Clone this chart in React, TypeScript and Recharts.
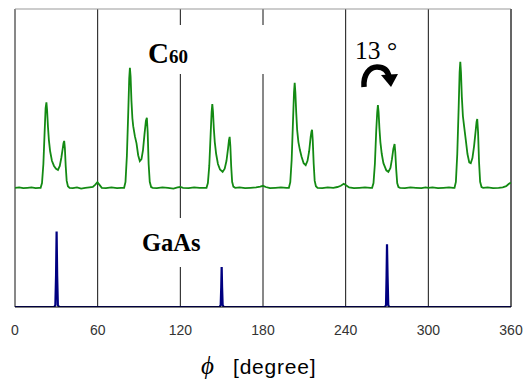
import * as React from 'react';
import { LineChart, Line, XAxis, YAxis, CartesianGrid, ReferenceLine } from 'recharts';

// phi [degree], intensity (C60 trace sits on an offset of 3)
const c60Trace: [number, number][] = [
  [0, 3.0], [3, 3.01], [6, 2.99], [9, 3.0], [12, 3.01], [15, 2.99], [17.5, 3.0],
  [18.6, 3.0], [19.6, 3.12], [20.6, 3.6], [21.5, 4.4], [22.2, 5.0], [22.8, 5.15], [23.3, 4.95],
  [23.9, 4.55], [24.6, 4.2], [25.5, 3.92], [26.8, 3.68], [28.3, 3.55], [29.8, 3.48], [31.2, 3.45],
  [32.5, 3.55], [33.6, 3.75], [34.6, 3.98], [35.2, 4.12], [35.7, 4.18], [36.2, 4.0], [36.8, 3.55],
  [37.5, 3.18], [38.4, 3.04], [39.6, 3.0],
  [42, 2.99], [45, 3.01], [48, 2.98], [51, 3.0], [54, 3.01], [56.5, 3.02], [58.3, 3.08],
  [59.8, 3.14], [61.2, 3.08], [63, 3.0], [66, 2.99], [70, 3.01], [74, 2.99], [77, 3.0],
  [79.2, 3.0], [80.2, 3.15], [81.2, 3.8], [82.2, 4.9], [82.9, 5.75], [83.4, 6.02], [83.9, 5.8],
  [84.5, 5.2], [85.2, 4.75], [85.8, 4.55], [87, 4.3], [88.2, 4.12], [89.4, 3.82], [90.6, 3.67],
  [91.8, 3.72], [92.9, 3.95], [94, 4.35], [95, 4.68], [95.7, 4.76], [96.3, 4.4], [97, 3.6],
  [97.8, 3.15], [98.8, 3.02], [100, 3.0],
  [103, 2.99], [107, 3.01], [111, 3.0], [115, 2.98], [118, 3.01], [120, 3.02], [122, 3.0],
  [126, 2.99], [130, 3.01], [134, 3.0], [137, 3.0],
  [139, 3.0], [140, 3.12], [141, 3.55], [142, 4.35], [142.7, 4.9], [143.2, 5.11], [143.7, 4.92],
  [144.3, 4.5], [145, 4.15], [146, 3.85], [147.3, 3.6], [148.8, 3.46], [150.7, 3.4], [152.2, 3.48],
  [153.5, 3.68], [154.6, 3.98], [155.3, 4.2], [155.8, 4.28], [156.3, 4.05], [156.9, 3.55],
  [157.6, 3.15], [158.5, 3.03], [159.8, 3.0],
  [163, 3.01], [167, 2.99], [171, 3.0], [175, 3.01], [178, 3.03], [180, 3.05], [182, 3.02],
  [185, 2.99], [189, 3.0], [193, 3.01], [197, 3.0],
  [198.8, 3.0], [199.8, 3.14], [200.8, 3.7], [201.8, 4.7], [202.5, 5.4], [203, 5.64], [203.5, 5.4],
  [204.1, 4.9], [204.8, 4.45], [205.7, 4.15], [206.8, 3.95], [208, 3.78], [209.5, 3.62], [211, 3.57],
  [212.3, 3.68], [213.5, 3.92], [214.6, 4.28], [215.2, 4.42], [215.6, 4.46], [216.1, 4.2],
  [216.8, 3.6], [217.5, 3.18], [218.4, 3.04], [219.6, 3.0],
  [223, 2.99], [227, 3.01], [231, 3.0], [234, 3.02], [236.5, 3.05], [238.6, 3.1], [240.5, 3.06],
  [242.5, 3.01], [246, 2.99], [250, 3.0], [254, 3.01], [258, 3.0],
  [259.2, 3.0], [260.2, 3.12], [261.2, 3.6], [262.2, 4.45], [262.9, 4.9], [263.4, 5.08], [263.9, 4.9],
  [264.5, 4.5], [265.2, 4.15], [266.2, 3.85], [267.4, 3.62], [269.5, 3.44], [271, 3.4], [272.5, 3.5],
  [273.6, 3.72], [274.6, 3.98], [275.5, 4.1], [276, 3.9], [276.7, 3.45], [277.4, 3.12],
  [278.3, 3.02], [279.5, 3.0],
  [283, 2.99], [287, 3.01], [291, 3.0], [295, 2.99], [298, 3.01], [300, 3.0], [303, 3.01],
  [307, 2.99], [311, 3.0], [315, 3.01], [318, 3.0],
  [319, 3.0], [320, 3.15], [321, 3.85], [322, 5.0], [322.7, 5.9], [323.2, 6.17], [323.7, 5.9],
  [324.3, 5.3], [325.1, 4.8], [326, 4.54], [327.2, 4.2], [328.4, 3.85], [329.7, 3.64], [330.8, 3.62],
  [332, 3.75], [333.2, 4.05], [334.4, 4.45], [335, 4.66], [335.5, 4.73], [336.1, 4.4], [336.8, 3.65],
  [337.6, 3.15], [338.6, 3.02], [339.8, 3.0],
  [343, 3.01], [347, 2.99], [351, 3.0], [354, 3.01], [356.5, 3.04], [358.5, 3.1], [360, 3.13],
];

const gaasTrace: [number, number][] = [
  [0, 0], [28.5, 0], [29.3, 0.05], [29.8, 0.8], [30.2, 1.9], [30.6, 0.8], [31.1, 0.05], [32, 0],
  [148.5, 0], [149.3, 0.05], [149.7, 0.5], [150, 1.02], [150.3, 0.5], [150.7, 0.05], [151.5, 0],
  [268.5, 0], [269.3, 0.05], [269.7, 0.8], [270, 1.58], [270.4, 0.8], [270.9, 0.05], [271.5, 0],
  [360, 0],
];

const phiTicks = [0, 60, 120, 180, 240, 300, 360];
const intensityTicks = [0, 1, 2, 3, 4, 5, 6, 7];

const c60Data = c60Trace.map(([phi, v]) => ({ phi, v }));
const gaasData = gaasTrace.map(([phi, v]) => ({ phi, v }));

// ticks on the left axis point into the plot
const InnerTick = (props: any) => {
  const { x, y } = props;
  return <line x1={x} x2={x + 4} y1={y} y2={y} stroke="#000" strokeWidth={1} />;
};

export default function App() {
  return (
    <div style={{ position: 'absolute', left: 0, top: 0, width: 526, height: 380, background: '#fff' }}>
      <LineChart
        width={526}
        height={380}
        margin={{ top: 9, right: 15, bottom: 43, left: 15 }}
      >
        <CartesianGrid horizontal={false} stroke="#111" strokeDasharray="" />
        <XAxis
          dataKey="phi"
          type="number"
          domain={[0, 360]}
          ticks={phiTicks}
          allowDataOverflow
          height={30}
          tickSize={0}
          tickMargin={18}
          axisLine={{ stroke: '#000' }}
          tick={{ fill: '#333', fontSize: 14, fontFamily: 'Liberation Sans, Arial, sans-serif' }}
        />
        <YAxis
          type="number"
          domain={[0, 7.5]}
          ticks={intensityTicks}
          allowDataOverflow
          width={0}
          tickSize={0}
          tickMargin={0}
          axisLine={{ stroke: '#000' }}
          tick={InnerTick}
        />
        <ReferenceLine y={7.5} stroke="#999" />
        <ReferenceLine x={360} stroke="#444" />
        <Line
          data={gaasData}
          dataKey="v"
          type="linear"
          stroke="#000080"
          strokeWidth={2.2}
          dot={false}
          isAnimationActive={false}
        />
        <Line
          data={c60Data}
          dataKey="v"
          type="linear"
          stroke="#138a13"
          strokeWidth={1.8}
          dot={false}
          isAnimationActive={false}
        />
      </LineChart>
      <svg
        width={526}
        height={380}
        style={{ position: 'absolute', left: 0, top: 0, pointerEvents: 'none' }}
      >
        <rect x={136} y={25} width={132} height={49} fill="#fff" />
        <rect x={110} y={218} width={135} height={49} fill="#fff" />
        <text x={148} y={63} fontFamily="Liberation Serif, Times New Roman, serif" fontWeight="bold" fontSize={29} fill="#000">
          C<tspan fontSize={19}>60</tspan>
        </text>
        <text x={142} y={251} fontFamily="Liberation Serif, Times New Roman, serif" fontWeight="bold" fontSize={24.5} fill="#000">
          GaAs
        </text>
        <text x={355} y={58.5} fontFamily="Liberation Serif, Times New Roman, serif" fontSize={25.5} fill="#000">
          13 °
        </text>
        <path d="M 364 87 C 363 74, 370 67, 377 67 C 384 67, 388 71, 389 77" fill="none" stroke="#000" strokeWidth={5.5} />
        <polygon points="381,75 398,74 391,87" fill="#000" />
        <text x={201} y={374} fontFamily="Liberation Serif, DejaVu Serif, serif" fontStyle="italic" fontSize={25} fill="#000">
          ϕ
        </text>
        <text x={233} y={374} fontFamily="Liberation Sans, Arial, sans-serif" fontSize={21} letterSpacing={0.8} fill="#000">
          [degree]
        </text>
      </svg>
    </div>
  );
}
